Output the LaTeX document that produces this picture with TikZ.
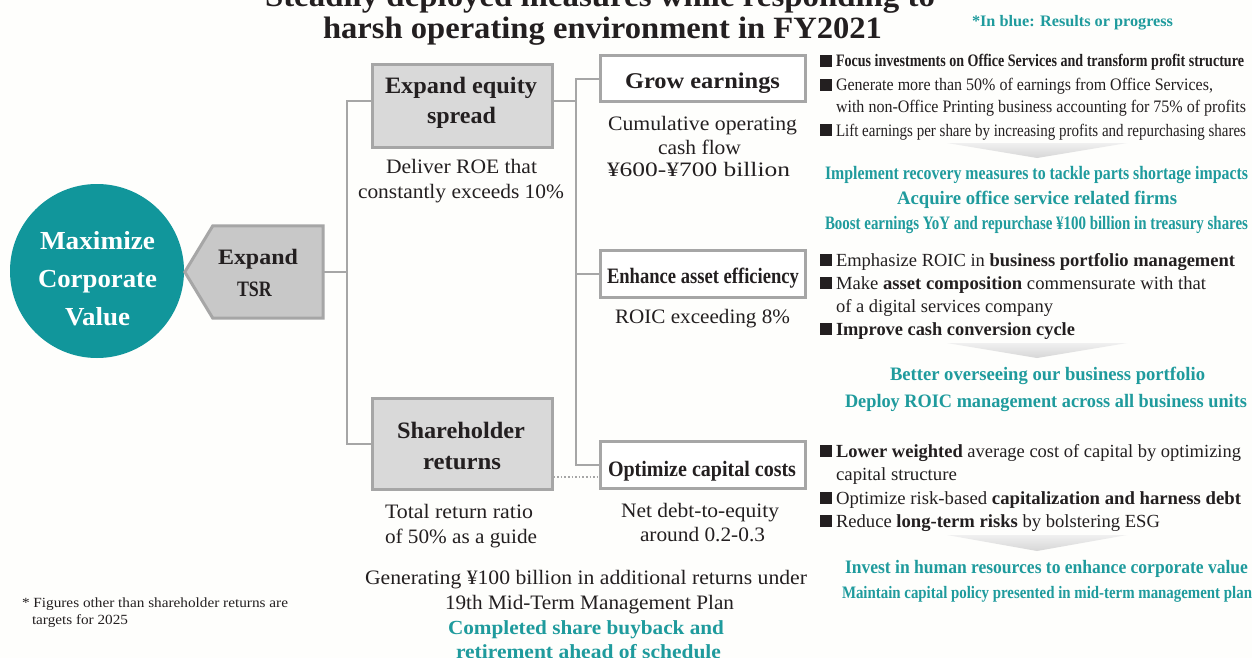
\documentclass[tikz,border=0pt]{standalone}
\usepackage{fontspec}
\setmainfont{Liberation Serif}
\usepackage{graphicx}
\definecolor{tealc}{HTML}{11969B}
\definecolor{tealt}{HTML}{1F9B9D}
\definecolor{lineg}{HTML}{A6A6A6}
\definecolor{boxf}{HTML}{D9D9D9}
\definecolor{pentf}{HTML}{C8C8C8}
\definecolor{inkc}{HTML}{231F20}
\definecolor{bgc}{HTML}{FEFEFC}
\newcommand\fw[2]{\resizebox{#1pt}{\height}{#2}}
\newcommand\fs[1]{\fontsize{#1}{#1}\selectfont}
\newcommand\bsq{\rule{12pt}{12pt}\hspace{4pt}}
\begin{document}
\begin{tikzpicture}[x=1pt,y=-1pt,
  txt/.style={inner sep=0pt, outer sep=0pt, anchor=base west, text=inkc},
  ttxt/.style={txt, text=tealt},
  wtxt/.style={txt, text=white},
  graybox/.style={draw=lineg, line width=3pt, fill=boxf, minimum width=#1, inner sep=0pt},
  whitebox/.style={draw=lineg, line width=3pt, fill=white, inner sep=0pt},
  conn/.style={draw=lineg, line width=2pt},
  dotconn/.style={draw=lineg, line width=1.6pt, dotted},
  arrowshade/.style={top color=gray!12, bottom color=gray!32, draw=none}
]
\useasboundingbox[fill=bgc] (0,0) rectangle (1252,658);

% title
\node[txt] (t1) at (265,7) {\fs{31}\fw{670}{\textbf{Steadily deployed measures while responding to}}};
\node[txt] (t2) at (323,39) {\fs{31}\fw{559}{\textbf{harsh operating environment in FY2021}}};
\node[ttxt] (note) at (972,27) {\fs{16}\fw{201}{\textbf{*In blue: Results or progress}}};

% circle
\node[circle, fill=tealc, minimum size=174pt, inner sep=0pt] (cv) at (97,271) {};
\node[wtxt] (cv1) at (40,249) {\fs{26}\fw{115}{\textbf{Maximize}}};
\node[wtxt] (cv2) at (38,287) {\fs{26}\fw{119}{\textbf{Corporate}}};
\node[wtxt] (cv3) at (65,325) {\fs{26}\fw{65}{\textbf{Value}}};

% Expand TSR pentagon
\node[rectangle, minimum width=110pt, minimum height=92pt, inner sep=0pt] (tsr) at (268,272) {};
\draw[draw=lineg, line width=3pt, fill=pentf, line join=miter]
  (tsr.north west) -- (tsr.north east) -- (tsr.south east) -- (tsr.south west)
  -- ([xshift=-28pt]tsr.west) -- cycle;
\node[txt] (tsr1) at (218,264) {\fs{22}\fw{80}{\textbf{Expand}}};
\node[txt] (tsr2) at (237,296) {\fs{22}\fw{35}{\textbf{TSR}}};

% boxes
\node[graybox=180pt, minimum height=82pt] (eq) at (462,106) {};
\node[graybox=180pt, minimum height=91pt] (sh) at (462,443.5) {};
\node[whitebox, minimum width=205pt, minimum height=46pt] (ge) at (702.5,79) {};
\node[whitebox, minimum width=205pt, minimum height=47pt] (ea) at (702.5,273.5) {};
\node[whitebox, minimum width=205pt, minimum height=47pt] (oc) at (702.5,464.5) {};

\node[txt] (eq1) at (385,94) {\fs{23.5}\fw{152}{\textbf{Expand equity}}};
\node[txt] (eq2) at (427,124) {\fs{23.5}\fw{69}{\textbf{spread}}};
\node[txt] (sh1) at (397,438) {\fs{23.5}\fw{128}{\textbf{Shareholder}}};
\node[txt] (sh2) at (423,469) {\fs{23.5}\fw{78}{\textbf{returns}}};
\node[txt] (ge1) at (625,89) {\fs{22.5}\fw{155}{\textbf{Grow earnings}}};
\node[txt] (ea1) at (607,283) {\fs{22}\fw{192}{\textbf{Enhance asset efficiency}}};
\node[txt] (oc1) at (608,476) {\fs{22}\fw{188}{\textbf{Optimize capital costs}}};

% connectors
\coordinate (k1) at (347,0);
\coordinate (k2) at (576,0);
\draw[conn] (tsr.east) -- (tsr.east -| k1);
\draw[conn] ([yshift=5pt]eq.west) -- ([yshift=5pt]eq.west -| k1) |- (sh.west);
\draw[conn] ([yshift=5pt]eq.east) -- ([yshift=5pt]eq.east -| k2);
\draw[conn] (ge.west) -- (ge.west -| k2) |- (oc.west);
\draw[conn] (ea.west) -- (ea.west -| k2);
\draw[dotconn] ([yshift=-33.5pt]sh.east) -- ([yshift=-33.5pt]sh.east -| oc.west);

% texts under boxes
\node[txt] (d1) at (386,174) {\fs{20.5}\fw{151}{Deliver ROE that}};
\node[txt] (d2) at (358,198) {\fs{20.5}\fw{206}{constantly exceeds 10\%}};
\node[txt] (g1) at (608,131) {\fs{20.5}\fw{189}{Cumulative operating}};
\node[txt] (g2) at (658,154) {\fs{20.5}\fw{83}{cash flow}};
\node[txt] (g3) at (607,176) {\fs{20.5}\fw{183}{¥600-¥700 billion}};
\node[txt] (r1) at (615,323) {\fs{20.5}\fw{175}{ROIC exceeding 8\%}};
\node[txt] (s1) at (385,518) {\fs{20.5}\fw{148}{Total return ratio}};
\node[txt] (s2) at (385,543) {\fs{20.5}\fw{152}{of 50\% as a guide}};
\node[txt] (n1) at (621,517) {\fs{20.5}\fw{158}{Net debt-to-equity}};
\node[txt] (n2) at (640,541) {\fs{20.5}\fw{125}{around 0.2-0.3}};
\node[txt] (m1) at (365,584) {\fs{20.5}\fw{442}{Generating ¥100 billion in additional returns under}};
\node[txt] (m2) at (445,609) {\fs{20.5}\fw{289}{19th Mid-Term Management Plan}};
\node[ttxt] (m3) at (448,634) {\fs{20}\fw{276}{\textbf{Completed share buyback and}}};
\node[ttxt] (m4) at (456,658) {\fs{20}\fw{265}{\textbf{retirement ahead of schedule}}};

% footnote
\node[txt] (f1) at (22,607) {\fs{14}\fw{266}{* Figures other than shareholder returns are}};
\node[txt] (f2) at (32,624) {\fs{14}\fw{96}{targets for 2025}};

% right block 1
\node[txt] (a1) at (820,67) {\fs{17.5}\bsq\fw{408}{\textbf{Focus investments on Office Services and transform profit structure}}};
\node[txt] (a2) at (820,91) {\fs{17.5}\bsq\fw{377}{Generate more than 50\% of earnings from Office Services,}};
\node[txt] (a3) at (836,113) {\fs{17.5}\fw{410}{with non-Office Printing business accounting for 75\% of profits}};
\node[txt] (a4) at (820,136) {\fs{17.5}\bsq\fw{410}{Lift earnings per share by increasing profits and repurchasing shares}};
\shade[arrowshade] (947,143) -- (1127,143) -- (1037,158) -- cycle;
\node[ttxt] (a5) at (825,179) {\fs{19}\fw{423}{\textbf{Implement recovery measures to tackle parts shortage impacts}}};
\node[ttxt] (a6) at (897,204) {\fs{19}\fw{280}{\textbf{Acquire office service related firms}}};
\node[ttxt] (a7) at (825,229) {\fs{19}\fw{423}{\textbf{Boost earnings YoY and repurchase ¥100 billion in treasury shares}}};

% right block 2
\node[txt] (b1) at (820,266) {\fs{18.5}\bsq\fw{399}{Emphasize ROIC in \textbf{business portfolio management}}};
\node[txt] (b2) at (820,289) {\fs{18.5}\bsq\fw{370}{Make \textbf{asset composition} commensurate with that}};
\node[txt] (b3) at (836,312) {\fs{18.5}\fw{217}{of a digital services company}};
\node[txt] (b4) at (820,335) {\fs{18.5}\bsq\fw{239}{\textbf{Improve cash conversion cycle}}};
\shade[arrowshade] (947,343) -- (1127,343) -- (1037,358) -- cycle;
\node[ttxt] (b5) at (890,380) {\fs{19}\fw{315}{\textbf{Better overseeing our business portfolio}}};
\node[ttxt] (b6) at (845,407) {\fs{19}\fw{402}{\textbf{Deploy ROIC management across all business units}}};

% right block 3
\node[txt] (c1) at (820,457) {\fs{18.5}\bsq\fw{405}{\textbf{Lower weighted} average cost of capital by optimizing}};
\node[txt] (c2) at (836,480) {\fs{18.5}\fw{121}{capital structure}};
\node[txt] (c3) at (820,504) {\fs{18.5}\bsq\fw{405}{Optimize risk-based \textbf{capitalization and harness debt}}};
\node[txt] (c4) at (820,527) {\fs{18.5}\bsq\fw{324}{Reduce \textbf{long-term risks} by bolstering ESG}};
\shade[arrowshade] (947,535) -- (1127,535) -- (1037,551) -- cycle;
\node[ttxt] (c5) at (845,573) {\fs{19}\fw{403}{\textbf{Invest in human resources to enhance corporate value}}};
\node[ttxt] (c6) at (842,598) {\fs{17.5}\fw{410}{\textbf{Maintain capital policy presented in mid-term management plan}}};
\end{tikzpicture}
\end{document}
